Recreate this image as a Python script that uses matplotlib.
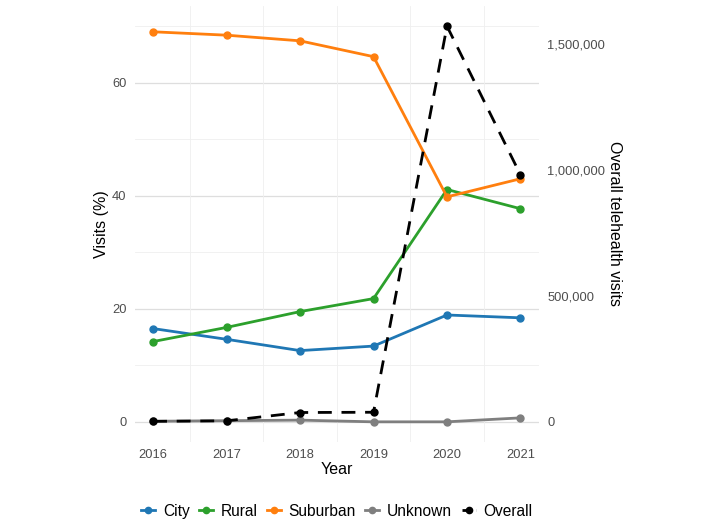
import matplotlib
matplotlib.use("Agg")
import matplotlib.pyplot as plt
from matplotlib.lines import Line2D
import numpy as np

plt.rcParams['font.family'] = ['Liberation Sans', 'DejaVu Sans']

years = [2016, 2017, 2018, 2019, 2020, 2021]
city = [16.5, 14.6, 12.6, 13.4, 18.9, 18.4]
rural = [14.2, 16.7, 19.5, 21.8, 41.1, 37.7]
suburban = [69.0, 68.4, 67.4, 64.6, 39.8, 43.0]
unknown = [0.1, 0.2, 0.3, 0.0, 0.0, 0.7]
overall = [2000, 4000, 37000, 38000, 1570000, 980000]

series_names = ["City", "Rural", "Suburban", "Unknown"]
series_vals = [city, rural, suburban, unknown]
colors = ["#1f77b4", "#2ca02c", "#ff7f0e", "#7f7f7f"]

scale = max(overall) / 70.0

fig = plt.figure(figsize=(7.09, 5.26), dpi=100)
ax = fig.add_axes([0.19, 0.16, 0.57, 0.829])
ax2 = ax.twinx()

ylo, yhi = -3.54, 73.6
ax.set_ylim(ylo, yhi)
ax2.set_ylim(ylo * scale, yhi * scale)
ax.set_xlim(2015.75, 2021.25)

# grid
for y in [0, 20, 40, 60]:
    ax.axhline(y, color="#dedede", lw=0.9, zorder=0)
for y in [10, 30, 50, 70]:
    ax.axhline(y, color="#efefef", lw=0.6, zorder=0)
for x in np.arange(2016.5, 2021, 1.0):
    ax.axvline(x, color="#efefef", lw=0.6, zorder=0)

for name, vals, c in zip(series_names, series_vals, colors):
    ax.plot(years, vals, color=c, lw=2.0, marker='o', ms=5, zorder=3)

ax2.plot(years, overall, color="black", lw=2.0, ls=(0, (5, 3.5)), marker='o', ms=5, zorder=4)

for a in (ax, ax2):
    for s in a.spines.values():
        s.set_visible(False)
    a.tick_params(length=0, labelsize=9.3, colors="#4d4d4d")

ax.set_xticks(years)
ax.set_xticklabels([str(y) for y in years])
ax.set_yticks([0, 20, 40, 60])
ax2.set_yticks([0, 500000, 1000000, 1500000])
ax2.set_yticklabels(["0", "500,000", "1,000,000", "1,500,000"])
ax.tick_params(axis='x', pad=5)
ax.tick_params(axis='y', pad=6)
ax2.tick_params(axis='y', pad=6)

ax.set_xlabel("Year", fontsize=11.5, labelpad=1)
ax.set_ylabel("Visits (%)", fontsize=11.5, labelpad=2)
ax2.set_ylabel("Overall telehealth visits", fontsize=11.5, rotation=-90, labelpad=12)

handles = [Line2D([0], [0], color=c, lw=2.0, marker='o', ms=4.5) for c in colors]
handles.append(Line2D([0], [0], color="black", lw=2.0, ls=(0, (3, 2)), marker='o', ms=4.5))
fig.legend(handles, series_names + ["Overall"], loc="center", bbox_to_anchor=(0.475, 0.028),
           ncol=5, frameon=False, fontsize=11.2, handlelength=0.9, handletextpad=0.5,
           columnspacing=0.6)

fig.savefig("out.png", dpi=100)
